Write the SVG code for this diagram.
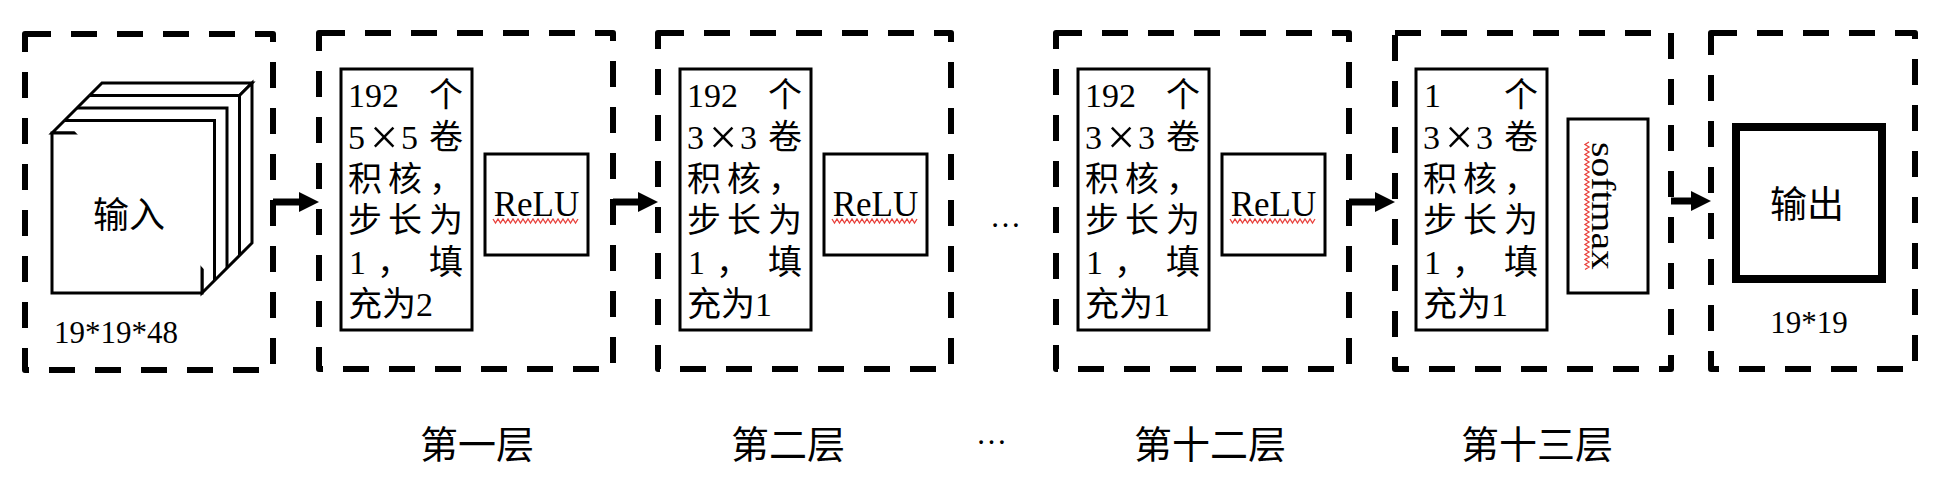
<svg xmlns="http://www.w3.org/2000/svg" width="1946" height="484" viewBox="0 0 1946 484">
<style>
.dash{fill:none;stroke:#000;stroke-width:6;stroke-dasharray:26 20;stroke-linejoin:round}
.box{fill:#fff;stroke:#000;stroke-width:3}
.t{font-family:"Liberation Serif","Noto Sans CJK SC",serif;font-size:34px;fill:#000}
.x{font-family:"Liberation Serif",serif;font-size:50px}
.relu{font-family:"Liberation Serif",serif;font-size:35px;fill:#000;text-anchor:middle}
.lbl{font-family:"Liberation Serif","Noto Sans CJK SC",serif;font-size:38px;fill:#000}
.num{font-family:"Liberation Serif",serif;font-size:31px;fill:#000}
.cjk{font-family:"Noto Sans CJK SC",sans-serif;fill:#000;text-anchor:middle}
.sq{fill:none;stroke:#e8413c;stroke-width:1.3}
.cube{fill:#fff;stroke:#000;stroke-width:3;stroke-linejoin:miter}
.conn{stroke:#000;stroke-width:7;fill:none}
</style>
<defs>
<marker id="ah" markerUnits="userSpaceOnUse" markerWidth="20" markerHeight="20" viewBox="0 0 20 20" refX="2" refY="10" orient="auto">
<path d="M0,0 L20,10 L0,20 Z" fill="#000"/>
</marker>
</defs>

<g id="input">
<rect class="dash" x="25" y="34" width="248" height="336"/>
<polygon class="cube" points="52,133 102,83 252,83 202,133"/>
<polygon class="cube" points="202,133 252,83 252,243 202,293"/>
<rect class="cube" x="52" y="133" width="150" height="160"/>
<path class="cube" d="M64.5,120.5 H214.5 V280.5 M77,108 H227 V268 M89.5,95.5 H239.5 V255.5"/>
<text class="cjk" x="129" y="228" font-size="36">输入</text>
<text class="num" x="54" y="343">19*19*48</text>
</g>

<g id="layer1" transform="translate(319,0)">
<rect class="dash" x="0" y="33" width="294" height="336"/>
<rect class="box" x="22" y="69" width="131" height="261"/>
<text class="t">
<tspan x="29" y="107">192</tspan><tspan x="110" y="107">个</tspan>
<tspan x="29" y="149">5</tspan><tspan class="x" x="51" y="154">×</tspan><tspan x="82" y="149">5</tspan><tspan x="110" y="149">卷</tspan>
<tspan x="29" y="191">积</tspan><tspan x="69" y="191">核</tspan><tspan x="110" y="191">，</tspan>
<tspan x="29" y="232">步</tspan><tspan x="69" y="232">长</tspan><tspan x="110" y="232">为</tspan>
<tspan x="30" y="274">1</tspan><tspan x="58" y="274">，</tspan><tspan x="110" y="274">填</tspan>
<tspan x="29" y="316">充为2</tspan>
</text>
<rect class="box" x="166" y="154" width="103" height="101"/>
<text class="relu" x="217.5" y="216">ReLU</text>
<path class="sq" d="M174,219 l2.5,4 l2.5,-4 l2.5,4 l2.5,-4 l2.5,4 l2.5,-4 l2.5,4 l2.5,-4 l2.5,4 l2.5,-4 l2.5,4 l2.5,-4 l2.5,4 l2.5,-4 l2.5,4 l2.5,-4 l2.5,4 l2.5,-4 l2.5,4 l2.5,-4 l2.5,4 l2.5,-4 l2.5,4 l2.5,-4 l2.5,4 l2.5,-4 l2.5,4 l2.5,-4 l2.5,4 l2.5,-4 l2.5,4 l2.5,-4 l2.5,4 l2.5,-4"/>
</g>

<g id="layer2" transform="translate(658,0)">
<rect class="dash" x="0" y="33" width="293" height="336"/>
<rect class="box" x="22" y="69" width="131" height="261"/>
<text class="t">
<tspan x="29" y="107">192</tspan><tspan x="110" y="107">个</tspan>
<tspan x="29" y="149">3</tspan><tspan class="x" x="51" y="154">×</tspan><tspan x="82" y="149">3</tspan><tspan x="110" y="149">卷</tspan>
<tspan x="29" y="191">积</tspan><tspan x="69" y="191">核</tspan><tspan x="110" y="191">，</tspan>
<tspan x="29" y="232">步</tspan><tspan x="69" y="232">长</tspan><tspan x="110" y="232">为</tspan>
<tspan x="30" y="274">1</tspan><tspan x="58" y="274">，</tspan><tspan x="110" y="274">填</tspan>
<tspan x="29" y="316">充为1</tspan>
</text>
<rect class="box" x="166" y="154" width="103" height="101"/>
<text class="relu" x="217.5" y="216">ReLU</text>
<path class="sq" d="M174,219 l2.5,4 l2.5,-4 l2.5,4 l2.5,-4 l2.5,4 l2.5,-4 l2.5,4 l2.5,-4 l2.5,4 l2.5,-4 l2.5,4 l2.5,-4 l2.5,4 l2.5,-4 l2.5,4 l2.5,-4 l2.5,4 l2.5,-4 l2.5,4 l2.5,-4 l2.5,4 l2.5,-4 l2.5,4 l2.5,-4 l2.5,4 l2.5,-4 l2.5,4 l2.5,-4 l2.5,4 l2.5,-4 l2.5,4 l2.5,-4 l2.5,4 l2.5,-4"/>
</g>

<g id="ellipsis">
<text class="num" x="990" y="227" font-size="40">…</text>
</g>

<g id="layer12" transform="translate(1056,0)">
<rect class="dash" x="0" y="33" width="293" height="336"/>
<rect class="box" x="22" y="69" width="131" height="261"/>
<text class="t">
<tspan x="29" y="107">192</tspan><tspan x="110" y="107">个</tspan>
<tspan x="29" y="149">3</tspan><tspan class="x" x="51" y="154">×</tspan><tspan x="82" y="149">3</tspan><tspan x="110" y="149">卷</tspan>
<tspan x="29" y="191">积</tspan><tspan x="69" y="191">核</tspan><tspan x="110" y="191">，</tspan>
<tspan x="29" y="232">步</tspan><tspan x="69" y="232">长</tspan><tspan x="110" y="232">为</tspan>
<tspan x="30" y="274">1</tspan><tspan x="58" y="274">，</tspan><tspan x="110" y="274">填</tspan>
<tspan x="29" y="316">充为1</tspan>
</text>
<rect class="box" x="166" y="154" width="103" height="101"/>
<text class="relu" x="217.5" y="216">ReLU</text>
<path class="sq" d="M174,219 l2.5,4 l2.5,-4 l2.5,4 l2.5,-4 l2.5,4 l2.5,-4 l2.5,4 l2.5,-4 l2.5,4 l2.5,-4 l2.5,4 l2.5,-4 l2.5,4 l2.5,-4 l2.5,4 l2.5,-4 l2.5,4 l2.5,-4 l2.5,4 l2.5,-4 l2.5,4 l2.5,-4 l2.5,4 l2.5,-4 l2.5,4 l2.5,-4 l2.5,4 l2.5,-4 l2.5,4 l2.5,-4 l2.5,4 l2.5,-4 l2.5,4 l2.5,-4"/>
</g>

<g id="layer13" transform="translate(1395,0)">
<rect class="dash" x="0" y="33" width="276" height="336"/>
<rect class="box" x="21" y="69" width="131" height="261"/>
<text class="t">
<tspan x="29" y="107">1</tspan><tspan x="109" y="107">个</tspan>
<tspan x="28" y="149">3</tspan><tspan class="x" x="50" y="154">×</tspan><tspan x="81" y="149">3</tspan><tspan x="109" y="149">卷</tspan>
<tspan x="28" y="191">积</tspan><tspan x="68" y="191">核</tspan><tspan x="109" y="191">，</tspan>
<tspan x="28" y="232">步</tspan><tspan x="68" y="232">长</tspan><tspan x="109" y="232">为</tspan>
<tspan x="29" y="274">1</tspan><tspan x="57" y="274">，</tspan><tspan x="109" y="274">填</tspan>
<tspan x="28" y="316">充为1</tspan>
</text>
<rect class="box" x="173" y="119" width="80" height="174"/>
<text class="t" transform="translate(197,142) rotate(90)" x="0" y="0" font-size="35" textLength="128" lengthAdjust="spacingAndGlyphs">softmax</text>
<path class="sq" d="M194,142 l-4,2.5 l4,2.5 l-4,2.5 l4,2.5 l-4,2.5 l4,2.5 l-4,2.5 l4,2.5 l-4,2.5 l4,2.5 l-4,2.5 l4,2.5 l-4,2.5 l4,2.5 l-4,2.5 l4,2.5 l-4,2.5 l4,2.5 l-4,2.5 l4,2.5 l-4,2.5 l4,2.5 l-4,2.5 l4,2.5 l-4,2.5 l4,2.5 l-4,2.5 l4,2.5 l-4,2.5 l4,2.5 l-4,2.5 l4,2.5 l-4,2.5 l4,2.5 l-4,2.5 l4,2.5 l-4,2.5 l4,2.5 l-4,2.5 l4,2.5 l-4,2.5 l4,2.5 l-4,2.5 l4,2.5 l-4,2.5 l4,2.5 l-4,2.5 l4,2.5 l-4,2.5 l4,2.5 l-4,2.5"/>
</g>

<g id="output">
<rect class="dash" x="1711" y="33" width="204" height="336"/>
<rect x="1736" y="127" width="146" height="152" fill="#fff" stroke="#000" stroke-width="8"/>
<text class="cjk" x="1807" y="218" font-size="37">输出</text>
<text class="num" x="1809" y="333" text-anchor="middle">19*19</text>
</g>

<g id="connectors">
<line class="conn" x1="273" y1="202" x2="301" y2="202" marker-end="url(#ah)"/>
<line class="conn" x1="613" y1="202" x2="640" y2="202" marker-end="url(#ah)"/>
<line class="conn" x1="1349" y1="202" x2="1377" y2="202" marker-end="url(#ah)"/>
<line class="conn" x1="1671" y1="201" x2="1693" y2="201" marker-end="url(#ah)"/>
</g>

<g id="labels">
<text class="lbl" x="420" y="458">第一层</text>
<text class="lbl" x="731" y="458">第二层</text>
<text class="num" x="976" y="444" font-size="40">…</text>
<text class="lbl" x="1134" y="458">第十二层</text>
<text class="lbl" x="1461" y="458">第十三层</text>
</g>
</svg>
